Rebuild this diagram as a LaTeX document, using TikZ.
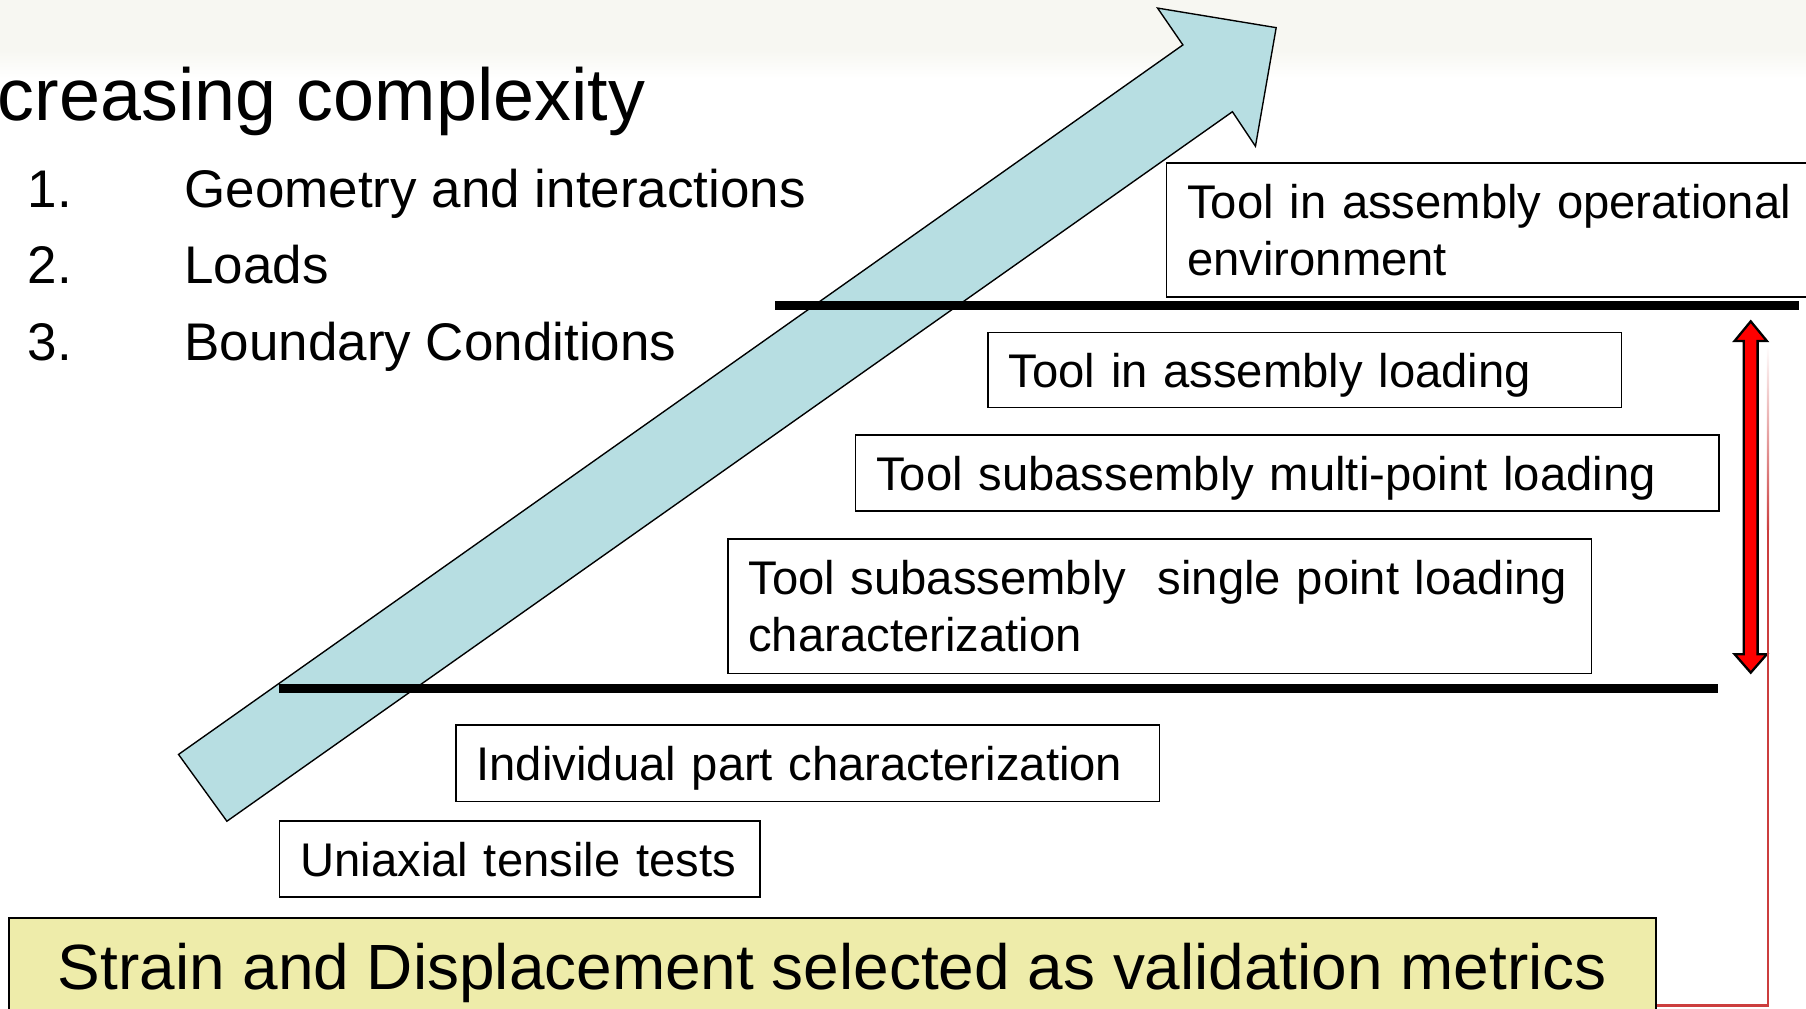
\documentclass[tikz,border=0pt]{standalone}
\usepackage{fontspec}
\setmainfont{Liberation Sans}
\usepackage{tikz}
\usetikzlibrary{shapes,arrows,positioning}

\definecolor{shaftblue}{RGB}{183,222,226}
\definecolor{metricyellow}{RGB}{238,236,170}
\definecolor{bandgray}{RGB}{247,247,242}
\definecolor{linkred}{RGB}{204,62,62}

\begin{document}
\begin{tikzpicture}[x=1pt,y=-1pt,>=latex',
  box/.style={draw=black,line width=1.5pt,fill=white,anchor=north west,inner xsep=18pt,inner ysep=0pt,align=left,font=\fontsize{41}{50}\selectfont},
  onebox/.style={box,text depth=0pt},
  rung/.style={line width=8pt},
  txt/.style={anchor=base west,inner sep=0pt,font=\fontsize{46}{50}\selectfont}]
  \useasboundingbox (0,0) rectangle (1568,876);
  \fill[bandgray] (0,0) rectangle (1568,44);
  \shade[top color=bandgray,bottom color=white] (0,44) rectangle (1568,68);
  \node (T) [txt,font=\fontsize{64}{70}\selectfont] at (-2,105) {creasing complexity};
  \node (n1) [txt] at (24,180) {1.};
  \node (n2) [txt] at (24,246) {2.};
  \node (n3) [txt] at (24,313) {3.};
  \node (i1) [txt] at (160,180) {Geometry and interactions};
  \node (i2) [txt] at (160,246) {Loads};
  \node (i3) [txt] at (160,313) {Boundary Conditions};
  \draw[fill=shaftblue,line width=1.2pt,line join=miter] (155,655) -- (1027,39) -- (1005,7) -- (1108,24) -- (1090,127) -- (1070,97) -- (197,713) -- cycle;
  \node (E) [box,minimum width=600,minimum height=116,text width=564] at (1012,141) {Tool in assembly operational\\environment};
  \node (L) [onebox,minimum width=550,minimum height=65,text width=514] at (857,288) {Tool in assembly loading};
  \node (M) [onebox,minimum width=750,minimum height=66,text width=714] at (742,377) {Tool subassembly multi-point loading};
  \node (S) [box,minimum width=750,minimum height=117,text width=714] at (631,467) {Tool subassembly~ single point loading\\characterization};
  \node (P) [onebox,minimum width=611,minimum height=66,text width=575] at (395,629) {Individual part characterization};
  \node (U) [onebox,minimum width=417,minimum height=66,text width=381] at (242,712) {Uniaxial tensile tests};
  \node (V) [onebox,fill=metricyellow,minimum width=1430,minimum height=84,font=\fontsize{55.5}{60}\selectfont] at (7,796) {Strain and Displacement selected as validation metrics};
  \draw[rung] (673,265) -- (1562,265);
  \draw[rung] (242,598) -- (1492,598);
  \draw[fill=red,line width=2pt,line join=miter] (1520,279) -- (1534,296) -- (1526,296) -- (1526,568) -- (1534,568) -- (1520,584) -- (1506,568) -- (1514,568) -- (1514,296) -- (1506,296) -- cycle;
  \coordinate (R) at (1535,873);
  \draw[linkred,line width=1.8pt] (V.east |- R) -- (R) -- (R |- 0,460);
  \shade[top color=white,bottom color=linkred] (1534.1,300) rectangle (1535.9,460);
\end{tikzpicture}
\end{document}
